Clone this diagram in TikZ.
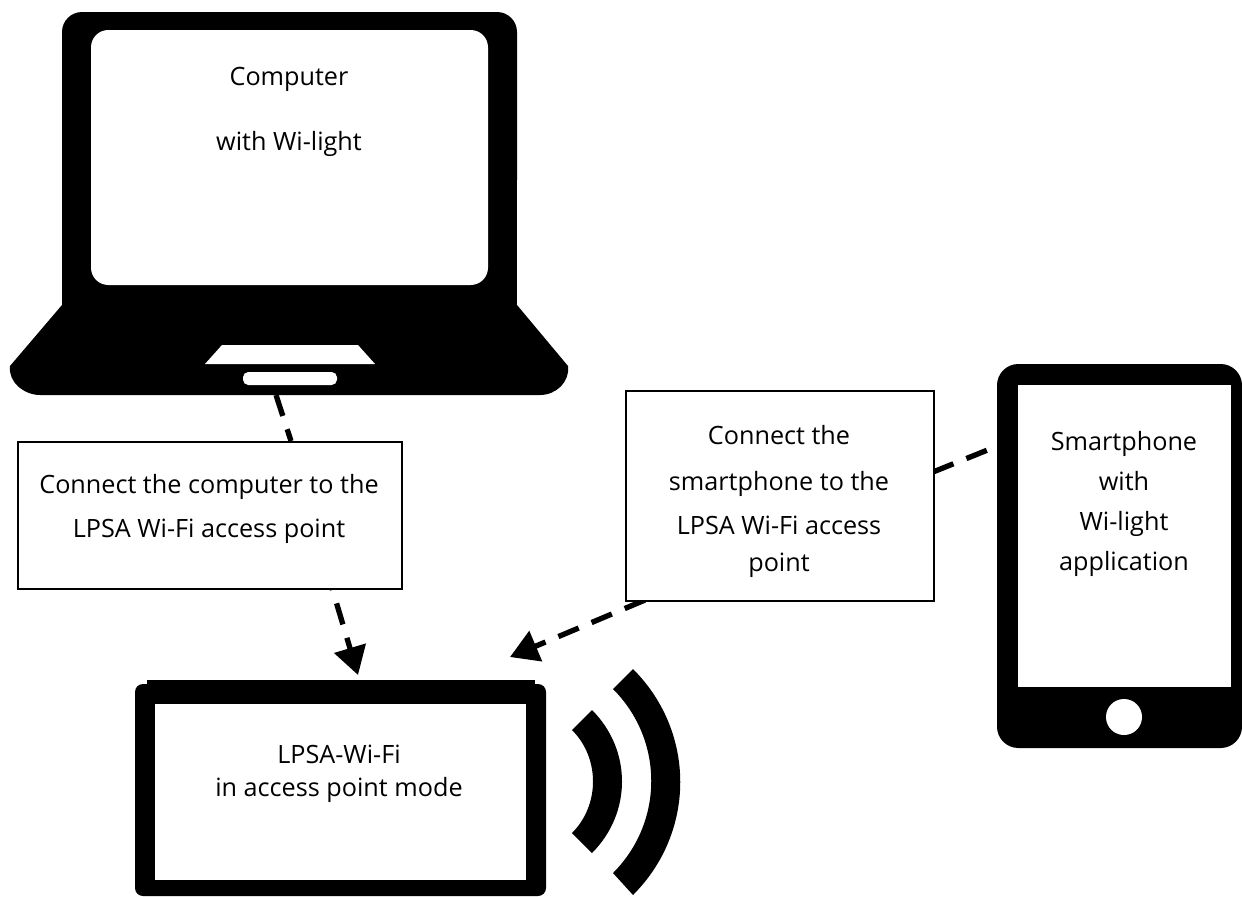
\documentclass[tikz,border=0pt]{standalone}
\usepackage{fontspec}
\setmainfont{Open Sans}
\usetikzlibrary{arrows.meta}
\tikzset{
  x=0.75pt,y=-0.75pt,
  icon/.style={fill=black,draw=none},
  hole/.style={fill=white,draw=none},
  boxnode/.style={draw=black,line width=1.5pt,fill=white,inner sep=0pt,anchor=north west},
  txt/.style={font=\fontsize{18.9}{18.9}\selectfont,text=black,inner sep=0pt,align=center,anchor=base},
  link/.style={draw=black,line width=4pt,dash pattern=on 16.5pt off 10.5pt},
  linkarrow/.style={link,-{Triangle[length=21pt,width=24pt]}}
}
\begin{document}
\begin{tikzpicture}
\useasboundingbox (0,0) rectangle (1242,896);
% laptop
\path[icon,rounded corners=15pt] (62,200) |- (517,12) -- (517,200) -- cycle;
\path[icon] (62,100) rectangle (517,305);
\path[icon] (62,305) -- (517,305) -- (568,366)
  .. controls (570,382) and (556,395) .. (540,395) -- (40,395)
  .. controls (24,395) and (8,382) .. (10,366) -- cycle;
\path[hole,rounded corners=13pt] (91,30) rectangle (488,285);
\path[hole] (205,364) -- (222,345) -- (358,345) -- (375,364) -- cycle;
\path[hole,rounded corners=4pt] (243,372) rectangle (337,385);
\node[txt] (computer1) at (289,85) {Computer};
\node[txt] (computer2) at (289,150) {with Wi-light};
% phone
\path[icon,rounded corners=16pt] (997,364) rectangle (1242,748);
\path[hole] (1018,385) rectangle (1231,687);
\path[hole] (1124,717) circle (18);
\node[txt] (phone1) at (1124,450) {Smartphone};
\node[txt] (phone2) at (1124,490) {with};
\node[txt] (phone3) at (1124,530) {Wi-light};
\node[txt] (phone4) at (1124,570) {application};
% access point
\path[icon] (147,680) rectangle (535,700);
\path[icon,rounded corners=6pt] (135,684) rectangle (546,896);
\path[hole] (155,704) rectangle (526,880);
\node[txt] (ap1) at (339,763) {LPSA-Wi-Fi};
\node[txt] (ap2) at (339,796) {in access point mode};
% waves
\path[icon] (592,710) .. controls (632,750) and (632,813) .. (592,853) -- (572,833)
  .. controls (600,805) and (600,758) .. (572,730) -- cycle;
\path[icon] (633,669) .. controls (696,732) and (696,832) .. (633,895) -- (613,873)
  .. controls (664,822) and (664,740) .. (613,689) -- cycle;
% connector end points
\coordinate (laptopout) at (276,395);
\coordinate (apleft) at (358,675);
\coordinate (apright) at (510,657);
\coordinate (phoneout) at (1000,445);
\coordinate (boxoneIn) at (291,441);
\coordinate (boxoneOut) at (332,588);
\coordinate (boxtwoOut) at (645,600);
\coordinate (boxtwoIn) at (933,472);
\draw[link] (laptopout) -- (boxoneIn);
\draw[linkarrow,dash phase=15pt] (boxoneOut) -- (apleft);
\draw[linkarrow] (boxtwoOut) -- (apright);
\draw[link] (boxtwoIn) -- (phoneout);
% boxes
\node[boxnode,minimum width=384*0.75pt,minimum height=147*0.75pt] (boxone) at (17,441) {};
\node[boxnode,minimum width=308*0.75pt,minimum height=210*0.75pt] (boxtwo) at (625,390) {};
\node[txt] (b1a) at (209,493) {Connect the computer to the};
\node[txt] (b1b) at (209,537) {LPSA Wi-Fi access point};
\node[txt] (b2a) at (779,444) {Connect the};
\node[txt] (b2b) at (779,490) {smartphone to the};
\node[txt] (b2c) at (779,534) {LPSA Wi-Fi access};
\node[txt] (b2d) at (779,571) {point};
\end{tikzpicture}
\end{document}
